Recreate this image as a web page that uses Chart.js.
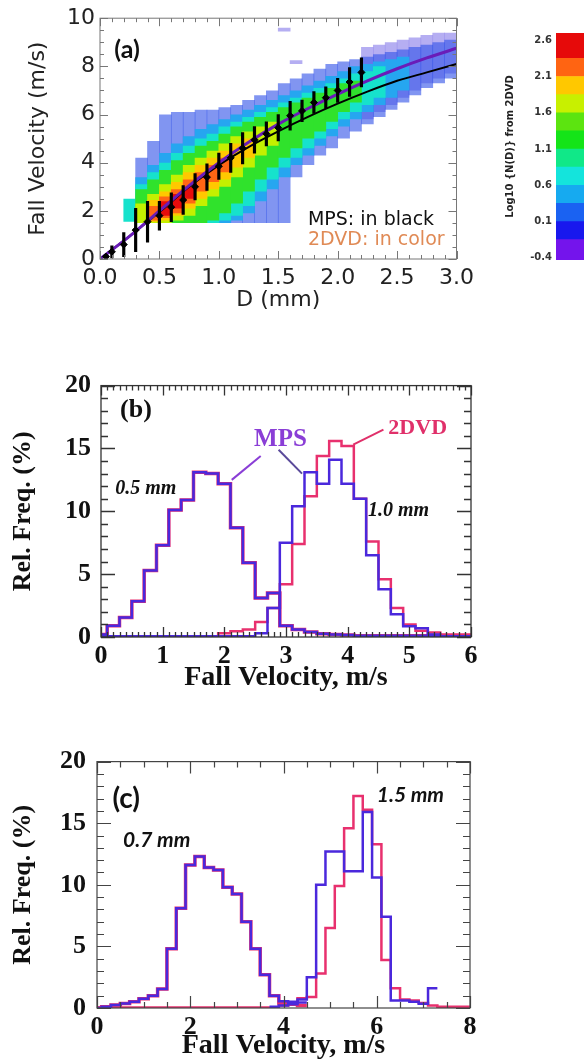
<!DOCTYPE html>
<html>
<head>
<meta charset="utf-8">
<script src="https://cdn.jsdelivr.net/npm/chart.js@4.4.1/dist/chart.umd.min.js"></script>
<style>
  body { margin: 0; background: #fff; width: 584px; height: 1062px; overflow: hidden; position: relative; }
  canvas { position: absolute; }
</style>
</head>
<body>
<canvas id="chartA" width="480" height="315" style="left:0px;top:0px"></canvas>
<canvas id="chartBar" width="120" height="270" style="left:470px;top:0px"></canvas>
<canvas id="chartB" width="490" height="336" style="left:0px;top:360px"></canvas>
<canvas id="chartC" width="490" height="329" style="left:0px;top:735px"></canvas>
<script>
// ---------- panel (a): fall velocity vs drop diameter ----------
// MPS mean fall velocity (black diamonds) and error bar half-lengths
const mpsD = [0.05, 0.1, 0.2, 0.3, 0.4, 0.5, 0.6, 0.7, 0.8, 0.9, 1.0, 1.1, 1.2, 1.3, 1.4, 1.5, 1.6, 1.7, 1.8, 1.9, 2.0, 2.1, 2.2];
const mpsV = [0.1, 0.3, 0.6, 1.2, 1.55, 1.8, 2.15, 2.45, 3.0, 3.4, 3.85, 4.2, 4.6, 4.95, 5.2, 5.45, 5.95, 6.15, 6.5, 6.7, 7.0, 7.35, 7.75];
const mpsErr = [0.05, 0.25, 0.5, 0.9, 0.85, 0.6, 0.6, 0.6, 0.55, 0.55, 0.55, 0.6, 0.65, 0.55, 0.5, 0.55, 0.6, 0.45, 0.45, 0.45, 0.5, 0.6, 0.6];

// fitted curves
const fitD = [0, 0.25, 0.5, 0.75, 1.0, 1.25, 1.5, 1.75, 2.0, 2.25, 2.5, 2.75, 3.0];
const fitBlack = [0, 0.95, 1.95, 3.0, 3.9, 4.65, 5.3, 5.9, 6.45, 6.95, 7.4, 7.75, 8.1];
const fitPurple = [0, 0.95, 2.0, 3.05, 4.0, 4.85, 5.6, 6.25, 6.85, 7.4, 7.9, 8.35, 8.75];

// 2DVD density, velocity range covered by each colour level per 0.1 mm bin
const dBins = ['0.05', '0.15', '0.25', '0.35', '0.45', '0.55', '0.65', '0.75', '0.85', '0.95',
  '1.05', '1.15', '1.25', '1.35', '1.45', '1.55', '1.65', '1.75', '1.85', '1.95',
  '2.05', '2.15', '2.25', '2.35', '2.45', '2.55', '2.65', '2.75', '2.85', '2.95'];
const bandLav = [null, null, null, null, null, null, null, null, null, null,
  null, null, null, null, null, [9.45, 9.6], [8.1, 8.25], null, null, null, null, null,
  [5.8, 8.8], [6.1, 8.9], [6.4, 9.0], [6.7, 9.1], [7.0, 9.2], [7.3, 9.3], [7.5, 9.4], [7.7, 9.4]];
const bandBlue = [null, null, null,
  [1.5, 4.2], [1.5, 4.9], [1.5, 6.0], [1.5, 6.1], [1.5, 6.1], [1.5, 6.2], [1.5, 6.2], [1.5, 6.3], [1.5, 6.4], [1.5, 6.6],
  [1.5, 6.8], [1.5, 7.0], [1.5, 7.3], [3.4, 7.5], [3.9, 7.7], [4.3, 7.9], [4.6, 8.1], [5.0, 8.2], [5.3, 8.3], [5.6, 8.4],
  [5.9, 8.5], [6.2, 8.6], [6.5, 8.7], [6.8, 8.8], [7.1, 8.9], [7.3, 9.0], [7.5, 9.1]];
const bandLtBlue = [null, null, null,
  [1.5, 3.4], [1.5, 3.9], [1.5, 4.4], [1.5, 4.8], [1.5, 5.1], [1.5, 5.4], [1.5, 5.6], [1.5, 5.8], [1.6, 6.0], [1.9, 6.2],
  [2.4, 6.4], [2.9, 6.6], [3.4, 6.8], [3.9, 7.0], [4.3, 7.2], [4.7, 7.4], [5.1, 7.6], [5.5, 7.8], [5.8, 8.0], [6.1, 8.1],
  [6.4, 8.2], [6.7, 8.3], [7.0, 8.4], null, null, null, null];
const bandCyan = [null, null, [1.55, 2.5],
  [1.5, 3.1], [1.5, 3.6], [1.5, 4.0], [1.5, 4.4], [1.5, 4.7], [1.5, 5.0], [1.5, 5.2], [1.6, 5.5], [1.8, 5.7], [2.2, 5.9],
  [2.8, 6.1], [3.3, 6.3], [3.8, 6.5], [4.2, 6.7], [4.6, 6.9], [5.0, 7.1], [5.4, 7.3], [5.8, 7.5], [6.1, 7.7], [6.4, 7.8],
  [6.7, 8.0], null, null, null, null, null, null];
const bandGreen = [null, null, null,
  [1.5, 2.9], [1.5, 3.3], [1.5, 3.7], [1.5, 4.1], [1.5, 4.4], [1.5, 4.7], [1.6, 4.9], [1.9, 5.2], [2.3, 5.5], [2.8, 5.7],
  [3.3, 5.9], [3.8, 6.1], [4.2, 6.3], [4.6, 6.5], [5.0, 6.7], [5.3, 6.9], [5.7, 7.1], [6.1, 7.3], [6.5, 7.4],
  null, null, null, null, null, null, null, null];
const bandYelGrn = [null, null, null,
  [1.5, 2.3], [1.5, 2.7], [1.5, 3.1], [1.6, 3.5], [1.8, 3.9], [2.2, 4.2], [2.6, 4.5], [3.0, 4.8], [3.4, 5.1], [3.8, 5.3],
  [4.3, 5.5], [4.7, 5.7], null, null, null, null, null, null, null, null, null, null, null, null, null, null, null];
const bandYellow = [null, null, null, null,
  [1.55, 2.45], [1.6, 2.8], [1.8, 3.2], [2.1, 3.6], [2.5, 3.9], [2.9, 4.2], [3.3, 4.5], [3.8, 4.8], [4.2, 5.0],
  null, null, null, null, null, null, null, null, null, null, null, null, null, null, null, null, null];
const bandOrange = [null, null, null, null,
  [1.6, 2.2], [1.7, 2.6], [1.9, 2.9], [2.3, 3.3], [2.8, 3.6], [3.2, 3.9], [3.6, 4.2],
  null, null, null, null, null, null, null, null, null, null, null, null, null, null, null, null, null, null, null];
const bandRed = [null, null, null, null, null,
  [1.8, 2.4], [2.1, 2.7], [2.5, 3.0],
  null, null, null, null, null, null, null, null, null, null, null, null, null, null, null, null, null, null, null, null, null, null];

// colour bar
const cbEdges = [-0.43, -0.15, 0.1, 0.35, 0.6, 0.85, 1.1, 1.35, 1.6, 1.85, 2.1, 2.35, 2.7];
const cbColors = ['#7414ec', '#1818ee', '#1a62f2', '#16aaf0', '#14e4dc', '#10e888', '#14e418', '#5ce410',
  '#c8f000', '#ffc800', '#ff6412', '#e60a0a'];
const cbTicks = [-0.4, 0.1, 0.6, 1.1, 1.6, 2.1, 2.6];

// ---------- panel (b): relative frequency, 0.5 mm and 1.0 mm ----------
const binsB = [0.0, 0.2, 0.4, 0.6, 0.8, 1.0, 1.2, 1.4, 1.6, 1.8, 2.0, 2.2, 2.4, 2.6, 2.8, 3.0,
  3.2, 3.4, 3.6, 3.8, 4.0, 4.2, 4.4, 4.6, 4.8, 5.0, 5.2, 5.4, 5.6, 5.8, 6.0];
const mps05B = [0.2, 0.9, 1.55, 2.85, 5.3, 7.3, 10.1, 10.9, 13.1, 13.0, 12.2, 8.7, 5.9, 3.1, 3.5, 0.9,
  0.6, 0.4, 0.25, 0.2, 0.15, 0.1, 0.1, 0.1, 0.1, 0.1, 0.1, 0.05, 0.05, 0.05, 0.05];
const dvd05B = [0.2, 0.9, 1.55, 2.85, 5.3, 7.3, 10.1, 10.9, 13.1, 13.0, 12.2, 8.7, 5.9, 3.1, 3.5, 0.9,
  0.6, 0.4, 0.25, 0.2, 0.15, 0.1, 0.1, 0.1, 0.1, 0.1, 0.1, 0.05, 0.05, 0.05, 0.05];
const mps10B = [0.05, 0.05, 0.05, 0.05, 0.05, 0.05, 0.05, 0.05, 0.05, 0.05, 0.05, 0.05, 0.05, 0.3, 2.3, 7.5,
  10.4, 13.1, 12.2, 14.1, 12.2, 11.0, 6.5, 3.8, 1.8, 0.85, 0.7, 0.2, 0.05, 0.05, 0.05];
const dvd10B = [0.05, 0.05, 0.05, 0.05, 0.05, 0.05, 0.05, 0.05, 0.05, 0.05, 0.3, 0.45, 0.6, 1.2, 2.3, 4.2,
  7.4, 11.2, 14.4, 15.6, 15.2, 11.0, 7.6, 4.6, 2.3, 1.0, 0.5, 0.35, 0.2, 0.2, 0.2];

// ---------- panel (c): relative frequency, 0.7 mm and 1.5 mm ----------
const binsC = [0.0, 0.2, 0.4, 0.6, 0.8, 1.0, 1.2, 1.4, 1.6, 1.8, 2.0, 2.2, 2.4, 2.6, 2.8, 3.0, 3.2, 3.4, 3.6, 3.8,
  4.0, 4.2, 4.4, 4.6, 4.8, 5.0, 5.2, 5.4, 5.6, 5.8, 6.0, 6.2, 6.4, 6.6, 6.8, 7.0, 7.2, 7.4, 7.6, 7.8, 8.0];
const mps07C = [0.0, 0.1, 0.25, 0.37, 0.5, 0.76, 1.0, 1.55, 4.8, 8.1, 11.6, 12.3, 11.4, 11.2, 9.8, 9.25, 7.0, 4.8, 2.7, 1.0,
  0.55, 0.5, 0.45, null, null, null, null, null, null, null, null, null, null, null, null, null, null, null, null, null, null];
const dvd07C = [0.0, 0.1, 0.25, 0.37, 0.5, 0.76, 1.0, 1.55, 4.8, 8.1, 11.6, 12.3, 11.4, 11.2, 9.8, 9.25, 7.0, 4.8, 2.7, 1.0,
  0.4, 0.3, 0.2, null, null, null, null, null, null, null, null, null, null, null, null, null, null, null, null, null, null];
const mps15C = [null, null, null, null, null, null, null, null, null, null, null, null, null, null, null, null, null, null, null, 0.1,
  0.2, 0.3, 0.7, 2.5, 10.0, 12.7, 12.7, 11.1, 11.1, 15.9, 10.6, 7.4, 0.6, 0.6, 0.5, 0.35, 1.6, null, null, null, null];
const dvd15C = [0.05, 0.05, 0.05, 0.05, 0.05, 0.05, 0.05, 0.05, 0.05, 0.05, 0.05, 0.05, 0.05, 0.05, 0.05, 0.05, 0.05, 0.05, 0.05, 0.05,
  0.2, 0.4, 0.8, 0.9, 2.8, 6.5, 9.9, 14.6, 17.2, 16.1, 13.3, 3.9, 1.6, 0.7, 0.6, 0.4, 0.2, 0.1, 0.1, 0.1, 0.1];

const BLUE = '#4a28dc';
const PINK = '#e8306e';
const SERIF = 'Liberation Serif';

Chart.defaults.animation = false;
Chart.defaults.responsive = false;
Chart.defaults.events = [];
Chart.defaults.plugins.legend.display = false;
Chart.defaults.plugins.tooltip.enabled = false;

// turn bin centres + values into left-edge points for a stepped outline
function stepPoints(centers, values, half, lo, hi) {
  const pts = [];
  let lastC = null, lastV = null;
  centers.forEach((c, i) => {
    const v = values[i];
    if (v === null) {
      if (lastC !== null) {
        pts.push({ x: Math.min(hi, lastC + half), y: lastV });
        pts.push({ x: c, y: null });
        lastC = null;
      }
      return;
    }
    pts.push({ x: Math.max(lo, c - half), y: v });
    lastC = c; lastV = v;
  });
  if (lastC !== null) pts.push({ x: Math.min(hi, lastC + half), y: lastV });
  return pts;
}

// box around the plot with inward major/minor ticks on all four sides
const frameTicks = {
  id: 'frameTicks',
  afterDatasetsDraw(chart, args, o) {
    const { ctx, chartArea: a } = chart;
    const xs = chart.scales.x, ys = chart.scales.y;
    ctx.save();
    ctx.strokeStyle = o.color;
    ctx.lineWidth = o.width;
    ctx.beginPath();
    const nx = Math.round((xs.max - xs.min) / o.xMinor);
    for (let k = 0; k <= nx; k++) {
      const v = xs.min + k * o.xMinor;
      const major = Math.abs(v / o.xMajor - Math.round(v / o.xMajor)) < 1e-6;
      const len = major ? o.xMajorLen : o.xMinorLen;
      const px = Math.round(xs.getPixelForValue(v)) + 0.5;
      ctx.moveTo(px, a.bottom); ctx.lineTo(px, a.bottom - len);
      ctx.moveTo(px, a.top); ctx.lineTo(px, a.top + len);
    }
    const ny = Math.round((ys.max - ys.min) / o.yMinor);
    for (let k = 0; k <= ny; k++) {
      const v = ys.min + k * o.yMinor;
      const major = Math.abs(v / o.yMajor - Math.round(v / o.yMajor)) < 1e-6;
      const len = major ? o.yMajorLen : o.yMinorLen;
      const py = Math.round(ys.getPixelForValue(v)) + 0.5;
      ctx.moveTo(a.left, py); ctx.lineTo(a.left + len, py);
      ctx.moveTo(a.right, py); ctx.lineTo(a.right - len, py);
    }
    ctx.stroke();
    ctx.strokeRect(a.left, a.top, a.right - a.left, a.bottom - a.top);
    ctx.restore();
  }
};

// labels and leader lines placed in data coordinates
const notes = {
  id: 'notes',
  afterDraw(chart, args, o) {
    const { ctx } = chart;
    const xs = chart.scales.x, ys = chart.scales.y;
    ctx.save();
    (o.lines || []).forEach(l => {
      ctx.strokeStyle = l.color;
      ctx.lineWidth = 2;
      ctx.beginPath();
      ctx.moveTo(xs.getPixelForValue(l.x1), ys.getPixelForValue(l.y1));
      ctx.lineTo(xs.getPixelForValue(l.x2), ys.getPixelForValue(l.y2));
      ctx.stroke();
    });
    (o.texts || []).forEach(t => {
      ctx.font = t.font;
      ctx.fillStyle = t.color;
      ctx.textAlign = t.align;
      ctx.textBaseline = 'middle';
      ctx.fillText(t.text, xs.getPixelForValue(t.x), ys.getPixelForValue(t.y));
    });
    ctx.restore();
  }
};

// ---------- chart (a) ----------
const bandStyles = [
  { data: bandLav, color: 'rgba(150,140,236,0.7)' },
  { data: bandBlue, color: 'rgba(52,84,232,0.62)' },
  { data: bandLtBlue, color: '#26a6f0' },
  { data: bandCyan, color: '#16e2cc' },
  { data: bandGreen, color: '#30e22c' },
  { data: bandYelGrn, color: '#c4f000' },
  { data: bandYellow, color: '#ffc800' },
  { data: bandOrange, color: '#ff6614' },
  { data: bandRed, color: '#e60c0c' }
];

const heatSets = bandStyles.map((b, k) => ({
  type: 'bar',
  data: b.data,
  xAxisID: 'xc',
  backgroundColor: b.color,
  borderWidth: 0,
  grouped: false,
  barPercentage: 1.06,
  categoryPercentage: 1,
  order: 30 - k
}));

new Chart(document.getElementById('chartA'), {
  type: 'bar',
  data: {
    labels: dBins,
    datasets: [
      ...heatSets,
      {
        type: 'line',
        data: fitD.map((d, i) => ({ x: d, y: fitBlack[i] })),
        xAxisID: 'x',
        borderColor: '#000',
        borderWidth: 2,
        pointRadius: 0,
        cubicInterpolationMode: 'monotone',
        order: 6
      },
      {
        type: 'line',
        data: fitD.map((d, i) => ({ x: d, y: fitPurple[i] })),
        xAxisID: 'x',
        borderColor: '#6a1cb8',
        borderWidth: 3,
        pointRadius: 0,
        cubicInterpolationMode: 'monotone',
        order: 5
      },
      {
        type: 'bar',
        data: mpsD.map((d, i) => ({ x: d, y: [mpsV[i] - mpsErr[i], mpsV[i] + mpsErr[i]] })),
        xAxisID: 'x',
        backgroundColor: '#000',
        barThickness: 2.5,
        grouped: false,
        order: 2
      },
      {
        type: 'line',
        data: mpsD.map((d, i) => ({ x: d, y: mpsV[i] })),
        xAxisID: 'x',
        showLine: false,
        pointRadius: 3.5,
        pointStyle: 'rectRot',
        pointBackgroundColor: '#000',
        pointBorderColor: '#000',
        order: 1
      }
    ]
  },
  options: {
    layout: { padding: { top: 15, right: 13, left: 0, bottom: 0 } },
    scales: {
      x: {
        type: 'linear', min: 0, max: 3, offset: false, position: 'bottom',
        grid: { display: false, drawTicks: false }, border: { display: false },
        ticks: {
          stepSize: 0.5, padding: 6, maxRotation: 0, color: '#222',
          font: { family: 'DejaVu Sans', size: 22 },
          callback: v => v.toFixed(1)
        },
        title: {
          display: true, text: 'D (mm)', color: '#222',
          font: { family: 'DejaVu Sans', size: 22 }, padding: { top: 0, bottom: 2 }
        },
        afterFit: s => { s.height = 56; }
      },
      xc: { type: 'category', display: false, offset: true },
      y: {
        min: 0, max: 10,
        grid: { display: false, drawTicks: false }, border: { display: false },
        ticks: { stepSize: 2, padding: 5, color: '#222', font: { family: 'DejaVu Sans', size: 22 } },
        title: {
          display: true, text: 'Fall Velocity (m/s)', color: '#222',
          font: { family: 'DejaVu Sans', size: 22 }, padding: { top: 25, bottom: 0 }
        },
        afterFit: s => { s.width = 100; }
      }
    },
    plugins: {
      frameTicks: { color: '#777', width: 1, xMajor: 0.5, xMinor: 0.1, xMajorLen: 8, xMinorLen: 4,
        yMajor: 2, yMinor: 0.5, yMajorLen: 8, yMinorLen: 4 },
      notes: {
        texts: [
          { text: '(a)', x: 0.12, y: 8.7, font: 'bold 25px Lato', color: '#111', align: 'left' },
          { text: 'MPS: in black', x: 1.75, y: 1.6, font: '19px DejaVu Sans', color: '#111', align: 'left' },
          { text: '2DVD: in color', x: 1.75, y: 0.78, font: '19px DejaVu Sans', color: '#e08a55', align: 'left' }
        ]
      }
    }
  },
  plugins: [frameTicks, notes]
});

// ---------- colour bar ----------
new Chart(document.getElementById('chartBar'), {
  type: 'bar',
  data: {
    labels: ['N'],
    datasets: cbColors.map((c, i) => ({
      data: [[cbEdges[i], cbEdges[i + 1]]],
      backgroundColor: c,
      borderWidth: 0,
      grouped: false,
      barPercentage: 1,
      categoryPercentage: 1
    }))
  },
  options: {
    layout: { padding: { top: 33, bottom: 10, left: 0, right: 0 } },
    scales: {
      x: { display: false },
      y: {
        min: -0.43, max: 2.7,
        afterBuildTicks: s => { s.ticks = cbTicks.map(v => ({ value: v })); },
        grid: { display: false, drawTicks: false }, border: { display: false },
        ticks: { padding: 4, color: '#333', font: { family: 'DejaVu Sans', size: 10, weight: 'bold' },
          callback: v => v.toFixed(1) },
        title: {
          display: true, text: 'Log10 {N(D)} from 2DVD', color: '#222',
          font: { family: 'DejaVu Sans', size: 10, weight: 'bold' }, padding: { top: 34, bottom: 0 }
        },
        afterFit: s => { s.width = 86; }
      }
    }
  }
});

// ---------- histogram panels ----------
function histChart(id, bins, series, xMax, xStep, ticksOpt, texts, lines, yWidth, xHeight, padRight, yPad) {
  new Chart(document.getElementById(id), {
    type: 'line',
    data: {
      datasets: series.map(s => ({
        data: stepPoints(bins, s.values, 0.1, 0, xMax),
        borderColor: s.color,
        borderWidth: s.width,
        stepped: true,
        pointRadius: 0,
        spanGaps: false,
        order: s.order
      }))
    },
    options: {
      layout: { padding: { top: 18, right: padRight, left: 0, bottom: 0 } },
      scales: {
        x: {
          type: 'linear', min: 0, max: xMax,
          grid: { display: false, drawTicks: false }, border: { display: false },
          ticks: { stepSize: xStep, padding: 4, maxRotation: 0, color: '#111',
            font: { family: SERIF, size: 26, weight: 'bold' } },
          title: {
            display: true, text: 'Fall Velocity, m/s', color: '#111',
            font: { family: SERIF, size: 28, weight: 'bold' }, padding: { top: 0, bottom: 1 }
          },
          afterFit: s => { s.height = xHeight; }
        },
        y: {
          min: 0, max: 20,
          grid: { display: false, drawTicks: false }, border: { display: false },
          ticks: { stepSize: 5, padding: yPad, color: '#111', font: { family: SERIF, size: 26, weight: 'bold' } },
          title: {
            display: true, text: 'Rel. Freq. (%)', color: '#111',
            font: { family: SERIF, size: 26, weight: 'bold' }, padding: { top: 8, bottom: 0 }
          },
          afterFit: s => { s.width = yWidth; }
        }
      },
      plugins: {
        frameTicks: ticksOpt,
        notes: { texts: texts, lines: lines }
      }
    },
    plugins: [frameTicks, notes]
  });
}

histChart('chartB', binsB, [
  { values: mps05B, color: BLUE, width: 2.5, order: 1 },
  { values: dvd05B, color: PINK, width: 3.5, order: 3 },
  { values: mps10B, color: BLUE, width: 2.5, order: 1 },
  { values: dvd10B, color: PINK, width: 2.5, order: 2 }
], 6, 1,
  { color: '#333', width: 1.3, xMajor: 1, xMinor: 0.1, xMajorLen: 10, xMinorLen: 5,
    yMajor: 5, yMinor: 1, yMajorLen: 14, yMinorLen: 7 },
  [
    { text: '(b)', x: 0.31, y: 18.0, font: `bold 26px ${SERIF}`, color: '#111', align: 'left' },
    { text: 'MPS', x: 2.91, y: 15.7, font: `bold 25px ${SERIF}`, color: '#8a3ed6', align: 'center' },
    { text: '2DVD', x: 4.66, y: 16.6, font: `bold 22px ${SERIF}`, color: '#e0306a', align: 'left' },
    { text: '0.5 mm', x: 0.23, y: 11.8, font: `italic bold 20px ${SERIF}`, color: '#111', align: 'left' },
    { text: '1.0 mm', x: 4.33, y: 10.0, font: `italic bold 20px ${SERIF}`, color: '#111', align: 'left' }
  ],
  [
    { x1: 2.59, y1: 14.4, x2: 2.12, y2: 12.5, color: '#8a3ed6' },
    { x1: 2.88, y1: 14.9, x2: 3.26, y2: 13.0, color: '#5a4a9a' },
    { x1: 4.58, y1: 16.5, x2: 4.09, y2: 15.3, color: '#e0306a' }
  ],
  101, 59, 19, 10);

histChart('chartC', binsC, [
  { values: mps07C, color: BLUE, width: 2.5, order: 1 },
  { values: dvd07C, color: PINK, width: 3.5, order: 3 },
  { values: mps15C, color: BLUE, width: 2.5, order: 1 },
  { values: dvd15C, color: PINK, width: 2.5, order: 2 }
], 8, 2,
  { color: '#444', width: 1.2, xMajor: 2, xMinor: 0.5, xMajorLen: 12, xMinorLen: 6,
    yMajor: 5, yMinor: 1, yMajorLen: 14, yMinorLen: 7 },
  [
    { text: '(c)', x: 0.33, y: 17.0, font: 'bold 28px Lato', color: '#111', align: 'left' },
    { text: '0.7 mm', x: 0.56, y: 13.6, font: 'italic bold 21px Lato', color: '#111', align: 'left' },
    { text: '1.5 mm', x: 6.0, y: 17.3, font: 'italic bold 21px Lato', color: '#111', align: 'left' }
  ],
  [],
  97, 56, 20, 11);
</script>
</body>
</html>
